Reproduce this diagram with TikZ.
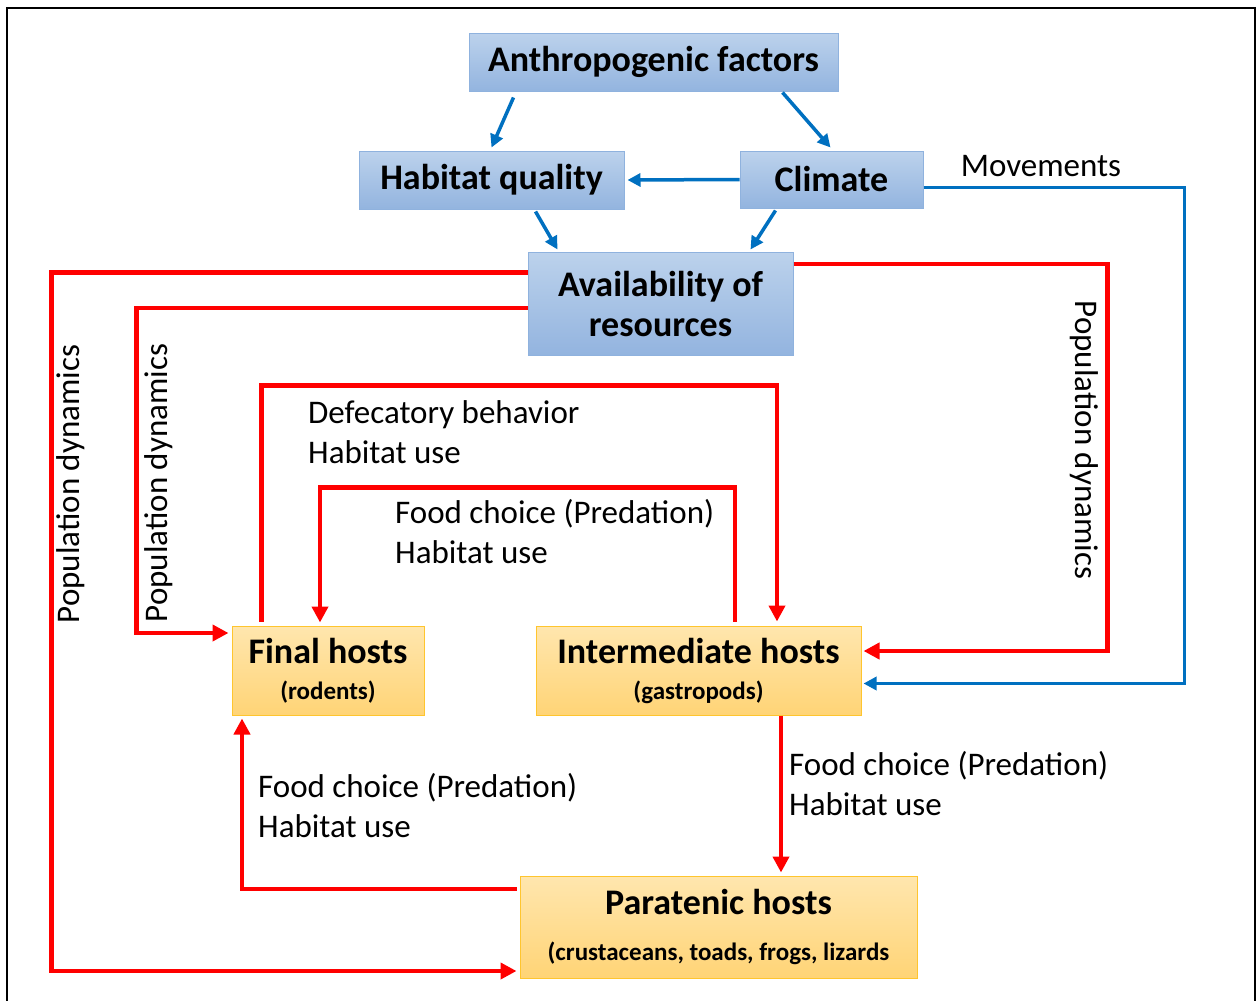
\documentclass[tikz,border=0pt]{standalone}
\usepackage{fontspec}
\setmainfont{Carlito}
\usepackage{tikz}
\usetikzlibrary{arrows.meta,calc,positioning}
\definecolor{boxblueT}{HTML}{BCD2EC}
\definecolor{boxblueB}{HTML}{93B4DF}
\definecolor{boxblueD}{HTML}{8FB2DE}
\definecolor{boxoraT}{HTML}{FFE6AE}
\definecolor{boxoraB}{HTML}{FFD476}
\definecolor{boxoraD}{HTML}{FFC52E}
\definecolor{linkblue}{HTML}{0070C0}
\definecolor{linkred}{HTML}{FF0000}
\tikzset{
  bluebox/.style={rectangle, draw=boxblueD, line width=1pt, top color=boxblueT,
    bottom color=boxblueB, align=center, inner sep=0pt,
    font=\fontsize{36}{42}\selectfont\bfseries},
  orabox/.style={rectangle, draw=boxoraD, line width=1pt, top color=boxoraT,
    bottom color=boxoraB, align=center, inner sep=0pt,
    font=\fontsize{36}{42}\selectfont\bfseries},
  bluelink/.style={draw=linkblue, line width=3.5pt, -{Triangle[length=13pt,width=13pt]}},
  redlink/.style={draw=linkred, line width=4.5pt, -{Triangle[length=16pt,width=16pt]}},
  lbl/.style={font=\fontsize{33}{40}\selectfont, align=left, inner sep=0pt},
}
\newcommand{\hostsub}[1]{{\fontsize{25}{30}\selectfont #1}}

\begin{document}
\begin{tikzpicture}[x=1pt, y=-1pt]
  \useasboundingbox (0,0) rectangle (1256,1001);
  % frame
  \draw[line width=2pt] (7,1005) -- (7,8) -- (1255,8) -- (1255,1005);
  % top factors
  \node[bluebox, minimum width=369, minimum height=58] (anthro) at (653.5,62)
    {Anthropogenic factors};
  \node[bluebox, minimum width=265, minimum height=58] (habitat) at (491.5,180)
    {Habitat quality};
  \node[bluebox, minimum width=183, minimum height=57] (climate) at (831.5,179.5)
    {Climate};
  \node[bluebox, minimum width=265, minimum height=103] (avail) at (660.5,303.5)
    {Availability of\\[-2pt]resources};
  % hosts
  \node[orabox, minimum width=192, minimum height=89] (final) at (328,670.5)
    {Final hosts\\[-6pt]\hostsub{(rodents)}};
  \node[orabox, minimum width=325, minimum height=89, right=111pt of final] (inter)
    {Intermediate hosts\\[-6pt]\hostsub{(gastropods)}};
  \node[orabox, minimum width=397, minimum height=102] (para) at (718.5,927)
    {Paratenic hosts\\[4pt]\hostsub{(crustaceans, toads, frogs, lizards}};
  % blue links
  \draw[bluelink] ($(anthro.south west)+(45,6)$) -- ($(habitat.north)+(0,-3)$);
  \draw[bluelink] ($(anthro.south east)+(-56,1)$) -- ($(climate.north)+(-1,-3)$);
  \draw[bluelink] (climate.west) -- ($(habitat.east)+(3,0)$);
  \draw[bluelink] ($(habitat.south)+(44,2)$) -- ($(avail.north west)+(30,-2)$);
  \draw[bluelink] ($(climate.south)+(-56,2)$) -- ($(avail.north east)+(-43,-2)$);
  \draw[bluelink] ($(climate.east)+(0,8)$) -- ++(261,0)
    node[lbl, pos=0.45, above=9pt] (mvlbl) {Movements}
    |- ($(inter.east)+(2,13)$);
  % red links
  \draw[redlink] ($(avail.west)+(0,-31)$) -- ++(-476,0) |- ($(para.west)+(-3,44)$);
  \draw[redlink] ($(avail.west)+(0,4.5)$) -- ++(-391,0) |- ($(final.west)+(-3,-37.5)$);
  \draw[redlink] ($(avail.east)+(0,-39.5)$) -- ++(314,0) |- ($(inter.east)+(2,-19.5)$);
  \draw[redlink] ($(final.north west)+(30,-4)$) -- ++(0,-236)
    -| ($(inter.north)+(78.5,-4)$);
  \draw[redlink] ($(inter.north)+(36.5,-4)$) -- ++(0,-134)
    -| ($(final.north)+(-8,-3)$);
  \draw[redlink] ($(inter.south)+(82.5,0)$) coordinate (ip) -- ($(ip |- para.north)+(0,-3)$);
  \draw[redlink] ($(para.west)+(-3,-38)$) -| ($(final.south)+(-86,3)$);
  % labels
  \node[lbl, rotate=90] (pdouter) at (71,484) {Population dynamics};
  \node[lbl, rotate=90] (pdinner) at (159,483) {Population dynamics};
  \node[lbl, rotate=-90] (pdright) at (1084,440) {Population dynamics};
  \node[lbl, anchor=west] (deflbl) at (308,432) {Defecatory behavior\\Habitat use};
  \node[lbl, anchor=west] (foodup) at (395,532) {Food choice (Predation)\\Habitat use};
  \node[lbl, anchor=west] (fooddown) at (789,784) {Food choice (Predation)\\Habitat use};
  \node[lbl, anchor=west] (foodpara) at (258,806) {Food choice (Predation)\\Habitat use};
\end{tikzpicture}
\end{document}
